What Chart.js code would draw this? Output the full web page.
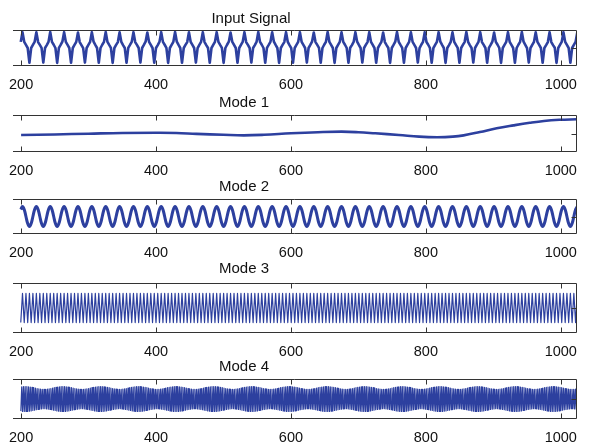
<!DOCTYPE html>
<html><head><meta charset="utf-8">
<script src="https://cdn.jsdelivr.net/npm/chart.js@4.4.0/dist/chart.umd.min.js"></script>
<style>
html,body{margin:0;padding:0;background:#fff;}
#wrap{position:relative;width:589px;height:445px;overflow:hidden;}
#wrap canvas{position:absolute;left:0;top:0;}
</style></head><body>
<div id="wrap">
<canvas id="c0" width="589" height="445"></canvas>
<canvas id="c1" width="589" height="445"></canvas>
<canvas id="c2" width="589" height="445"></canvas>
<canvas id="c3" width="589" height="445"></canvas>
<canvas id="c4" width="589" height="445"></canvas>
</div>
<script>
// ---------------- DATA ----------------
const titles = ['Input Signal', 'Mode 1', 'Mode 2', 'Mode 3', 'Mode 4'];
const xTickValues = [200, 400, 600, 800, 1000];
const xLimits = [188, 1024];

// sample grids (time axis of the sampled signals)
const coarseStart = 199.5, coarseStep = 2.57;     // input, mode 2, mode 3
const fineStart = 199.65, fineStep = 1.2705;      // mode 4

const inputSignal = [.34,
.88,.34,.17,0,-.82,0,.17,.34, .87,.33,.17,.01,-.81,0,.16,.34,
.89,.34,.18,0,-.83,.01,.17,.35, .88,.34,.17,0,-.82,0,.17,.34,
.86,.33,.16,-.01,-.81,0,.17,.34, .88,.35,.17,0,-.82,0,.18,.34,
.89,.34,.17,.01,-.83,0,.17,.33, .87,.34,.16,0,-.82,.01,.17,.34,
.88,.33,.17,0,-.81,0,.17,.35, .86,.34,.17,0,-.82,0,.16,.34,
.88,.34,.18,.01,-.83,0,.17,.34, .89,.35,.17,0,-.82,0,.17,.33,
.87,.34,.17,0,-.81,-.01,.17,.34, .88,.33,.16,0,-.82,0,.17,.34,
.88,.34,.17,.01,-.83,0,.18,.35, .86,.34,.17,0,-.82,0,.17,.34,
.88,.33,.17,0,-.81,0,.16,.34, .89,.34,.18,0,-.82,.01,.17,.34,
.87,.35,.17,0,-.83,0,.17,.33, .88,.34,.16,-.01,-.82,0,.17,.34,
.88,.34,.17,0,-.81,0,.17,.35, .86,.33,.17,.01,-.82,0,.18,.34,
.89,.34,.17,0,-.83,0,.17,.34, .87,.34,.18,0,-.82,.01,.16,.34,
.88,.35,.17,0,-.81,0,.17,.33, .88,.34,.17,0,-.82,0,.17,.34,
.86,.33,.16,0,-.83,0,.17,.35, .89,.34,.17,.01,-.82,0,.17,.34,
.87,.34,.17,0,-.81,-.01,.18,.34, .88,.33,.18,0,-.82,0,.17,.34,
.88,.35,.17,0,-.83,0,.16,.34, .87,.34,.17,.01,-.82,0,.17,.33,
.89,.34,.16,0,-.81,0,.17,.34, .88,.33,.17,0,-.82,.01,.17,.35,
.86,.34,.18,0,-.83,0,.17,.34, .88,.34,.17,0,-.82,0,.18,.34,
.89,.35,.17,-.01,-.81,0,.17,.34, .87,.34,.17,0,-.82,0,.16,.33,
.88,.33,.16,.01,-.83,0,.17,.34, .88,.34,.17,0,-.82,0,.17,.34,
.88];

const mode1X = [200, 250, 300, 350, 400, 430, 460, 500, 530, 560, 600, 640, 675, 700, 725, 760, 790, 817, 840, 856, 880, 905, 930, 954, 975, 998, 1024];
const mode1Y = [-.08, -.05, -.01, .03, .04, .03, -.02, -.07, -.1, -.07, .01, .07, .1, .07, .01, -.08, -.17, -.2, -.17, -.1, .08, .28, .44, .58, .68, .74, .77];

const mode2 = [.71,
1,.71,0,-.71,-1,-.71,0,.71, 1,.71,0,-.71,-1,-.71,0,.71,
1,.71,0,-.71,-1,-.71,0,.71, 1,.71,0,-.71,-1,-.71,0,.71,
1,.71,0,-.71,-1,-.71,0,.71, 1,.71,0,-.71,-1,-.71,0,.71,
1,.71,0,-.71,-1,-.71,0,.71, 1,.71,0,-.71,-1,-.71,0,.71,
1,.71,0,-.71,-1,-.71,0,.71, 1,.71,0,-.71,-1,-.71,0,.71,
1,.71,0,-.71,-1,-.71,0,.71, 1,.71,0,-.71,-1,-.71,0,.71,
1,.71,0,-.71,-1,-.71,0,.71, 1,.71,0,-.71,-1,-.71,0,.71,
1,.71,0,-.71,-1,-.71,0,.71, 1,.71,0,-.71,-1,-.71,0,.71,
1,.71,0,-.71,-1,-.71,0,.71, 1,.71,0,-.71,-1,-.71,0,.71,
1,.71,0,-.71,-1,-.71,0,.71, 1,.71,0,-.71,-1,-.71,0,.71,
1,.71,0,-.71,-1,-.71,0,.71, 1,.71,0,-.71,-1,-.71,0,.71,
1,.71,0,-.71,-1,-.71,0,.71, 1,.71,0,-.71,-1,-.71,0,.71,
1,.71,0,-.71,-1,-.71,0,.71, 1,.71,0,-.71,-1,-.71,0,.71,
1,.71,0,-.71,-1,-.71,0,.71, 1,.71,0,-.71,-1,-.71,0,.71,
1,.71,0,-.71,-1,-.71,0,.71, 1,.71,0,-.71,-1,-.71,0,.71,
1,.71,0,-.71,-1,-.71,0,.71, 1,.71,0,-.71,-1,-.71,0,.71,
1,.71,0,-.71,-1,-.71,0,.71, 1,.71,0,-.71,-1,-.71,0,.71,
1,.71,0,-.71,-1,-.71,0,.71, 1,.71,0,-.71,-1,-.71,0,.71,
1,.71,0,-.71,-1,-.71,0,.71, 1,.71,0,-.71,-1,-.71,0,.71,
1,.71,0,-.71,-1,-.71,0,.71, 1,.71,0,-.71,-1,-.71,0,.71,
1];

const mode3 = [
-1,1,-1,1,-1,1,-1,1,-1,1,-1,1,-1,1,-1,1,-1,1,-1,1,-1,1,-1,1,-1,1,-1,1,-1,1,-1,1,
-1,1,-1,1,-1,1,-1,1,-1,1,-1,1,-1,1,-1,1,-1,1,-1,1,-1,1,-1,1,-1,1,-1,1,-1,1,-1,1,
-1,1,-1,1,-1,1,-1,1,-1,1,-1,1,-1,1,-1,1,-1,1,-1,1,-1,1,-1,1,-1,1,-1,1,-1,1,-1,1,
-1,1,-1,1,-1,1,-1,1,-1,1,-1,1,-1,1,-1,1,-1,1,-1,1,-1,1,-1,1,-1,1,-1,1,-1,1,-1,1,
-1,1,-1,1,-1,1,-1,1,-1,1,-1,1,-1,1,-1,1,-1,1,-1,1,-1,1,-1,1,-1,1,-1,1,-1,1,-1,1,
-1,1,-1,1,-1,1,-1,1,-1,1,-1,1,-1,1,-1,1,-1,1,-1,1,-1,1,-1,1,-1,1,-1,1,-1,1,-1,1,
-1,1,-1,1,-1,1,-1,1,-1,1,-1,1,-1,1,-1,1,-1,1,-1,1,-1,1,-1,1,-1,1,-1,1,-1,1,-1,1,
-1,1,-1,1,-1,1,-1,1,-1,1,-1,1,-1,1,-1,1,-1,1,-1,1,-1,1,-1,1,-1,1,-1,1,-1,1,-1,1,
-1,1,-1,1,-1,1,-1,1,-1,1,-1,1,-1,1,-1,1,-1,1,-1,1,-1,1,-1,1,-1,1,-1,1,-1,1,-1,1,
-1,1,-1,1,-1,1,-1,1,-1,1,-1,1,-1,1,-1,1,-1,1,-1,1,-1,1,-1,1,-1,1,-1,1,-1,1,-1,1,
-1,1];

const mode4 = [-.97,.98,-.99,.99,-1,
1,-1,.99,-.99,.98,-.97,.96,-.95,.94,-.92,.91,-.89,.87,-.86,.84,-.83,.82,-.81,.8,-.79,.78,-.78,.78,-.78,.78,-.79,.8,-.81,.82,-.83,.84,-.86,.87,-.89,.91,-.92,.94,-.95,.96,-.97,.98,-.99,.99,-1,
1,-1,.99,-.99,.98,-.97,.96,-.95,.94,-.92,.91,-.89,.87,-.86,.84,-.83,.82,-.81,.8,-.79,.78,-.78,.78,-.78,.78,-.79,.8,-.81,.82,-.83,.84,-.86,.87,-.89,.91,-.92,.94,-.95,.96,-.97,.98,-.99,.99,-1,
1,-1,.99,-.99,.98,-.97,.96,-.95,.94,-.92,.91,-.89,.87,-.86,.84,-.83,.82,-.81,.8,-.79,.78,-.78,.78,-.78,.78,-.79,.8,-.81,.82,-.83,.84,-.86,.87,-.89,.91,-.92,.94,-.95,.96,-.97,.98,-.99,.99,-1,
1,-1,.99,-.99,.98,-.97,.96,-.95,.94,-.92,.91,-.89,.87,-.86,.84,-.83,.82,-.81,.8,-.79,.78,-.78,.78,-.78,.78,-.79,.8,-.81,.82,-.83,.84,-.86,.87,-.89,.91,-.92,.94,-.95,.96,-.97,.98,-.99,.99,-1,
1,-1,.99,-.99,.98,-.97,.96,-.95,.94,-.92,.91,-.89,.87,-.86,.84,-.83,.82,-.81,.8,-.79,.78,-.78,.78,-.78,.78,-.79,.8,-.81,.82,-.83,.84,-.86,.87,-.89,.91,-.92,.94,-.95,.96,-.97,.98,-.99,.99,-1,
1,-1,.99,-.99,.98,-.97,.96,-.95,.94,-.92,.91,-.89,.87,-.86,.84,-.83,.82,-.81,.8,-.79,.78,-.78,.78,-.78,.78,-.79,.8,-.81,.82,-.83,.84,-.86,.87,-.89,.91,-.92,.94,-.95,.96,-.97,.98,-.99,.99,-1,
1,-1,.99,-.99,.98,-.97,.96,-.95,.94,-.92,.91,-.89,.87,-.86,.84,-.83,.82,-.81,.8,-.79,.78,-.78,.78,-.78,.78,-.79,.8,-.81,.82,-.83,.84,-.86,.87,-.89,.91,-.92,.94,-.95,.96,-.97,.98,-.99,.99,-1,
1,-1,.99,-.99,.98,-.97,.96,-.95,.94,-.92,.91,-.89,.87,-.86,.84,-.83,.82,-.81,.8,-.79,.78,-.78,.78,-.78,.78,-.79,.8,-.81,.82,-.83,.84,-.86,.87,-.89,.91,-.92,.94,-.95,.96,-.97,.98,-.99,.99,-1,
1,-1,.99,-.99,.98,-.97,.96,-.95,.94,-.92,.91,-.89,.87,-.86,.84,-.83,.82,-.81,.8,-.79,.78,-.78,.78,-.78,.78,-.79,.8,-.81,.82,-.83,.84,-.86,.87,-.89,.91,-.92,.94,-.95,.96,-.97,.98,-.99,.99,-1,
1,-1,.99,-.99,.98,-.97,.96,-.95,.94,-.92,.91,-.89,.87,-.86,.84,-.83,.82,-.81,.8,-.79,.78,-.78,.78,-.78,.78,-.79,.8,-.81,.82,-.83,.84,-.86,.87,-.89,.91,-.92,.94,-.95,.96,-.97,.98,-.99,.99,-1,
1,-1,.99,-.99,.98,-.97,.96,-.95,.94,-.92,.91,-.89,.87,-.86,.84,-.83,.82,-.81,.8,-.79,.78,-.78,.78,-.78,.78,-.79,.8,-.81,.82,-.83,.84,-.86,.87,-.89,.91,-.92,.94,-.95,.96,-.97,.98,-.99,.99,-1,
1,-1,.99,-.99,.98,-.97,.96,-.95,.94,-.92,.91,-.89,.87,-.86,.84,-.83,.82,-.81,.8,-.79,.78,-.78,.78,-.78,.78,-.79,.8,-.81,.82,-.83,.84,-.86,.87,-.89,.91,-.92,.94,-.95,.96,-.97,.98,-.99,.99,-1,
1,-1,.99,-.99,.98,-.97,.96,-.95,.94,-.92,.91,-.89,.87,-.86,.84,-.83,.82,-.81,.8,-.79,.78,-.78,.78,-.78,.78,-.79,.8,-.81,.82,-.83,.84,-.86,.87,-.89,.91,-.92,.94,-.95,.96,-.97,.98,-.99,.99,-1,
1,-1,.99,-.99,.98,-.97,.96,-.95,.94,-.92,.91,-.89,.87,-.86,.84,-.83,.82,-.81,.8,-.79,.78,-.78,.78,-.78,.78,-.79,.8,-.81,.82,-.83,.84,-.86,.87,-.89,.91,-.92,.94,-.95,.96,-.97,.98,-.99,.99,-1,
1,-1,.99,-.99,.98,-.97,.96,-.95,.94,-.92,.91,-.89,.87,-.86,.84,-.83,.82,-.81,.8,-.79,.78,-.78,.78,-.78,.78,-.79,.8,-.81,.82];

// ---------------- LAYOUT / STYLE ----------------
const W = 589, H = 445;
const AXIS_H = 26;
const lineColor = '#2d409f';
const frameColor = '#333333';
const textColor = '#111111';
const FONT = '"Liberation Sans", Arial, Helvetica, sans-serif';

const panels = [
  {top: 30,  bottom: 66,  titleX: 251, titleGap: 7,  width: 2.6, tension: 0,   y: [-1, 1]},
  {top: 115, bottom: 152, titleX: 244, titleGap: 8,  width: 2.6, tension: 0.4, y: [-1, 1]},
  {top: 199, bottom: 234, titleX: 244, titleGap: 8,  width: 3,   tension: 0.4, y: [-1.75, 1.75]},
  {top: 283, bottom: 333, titleX: 244, titleGap: 10, width: 1.2, tension: 0,   y: [-1.72, 1.72]},
  {top: 379, bottom: 419, titleX: 244, titleGap: 8,  width: 1.2, tension: 0,   y: [-1.6, 1.6]}
];

function sampled(values, start, step) {
  return values.map((v, i) => ({x: start + i * step, y: v}));
}
const series = [
  sampled(inputSignal, coarseStart, coarseStep),
  mode1X.map((x, i) => ({x: x, y: mode1Y[i]})),
  sampled(mode2, coarseStart, coarseStep),
  sampled(mode3, coarseStart, coarseStep),
  sampled(mode4, fineStart, fineStep)
];

const framePlugin = {
  id: 'frame',
  afterDraw(chart, args, opts) {
    const ctx = chart.ctx;
    const a = chart.chartArea;
    const xs = chart.scales.x, ys = chart.scales.y;
    const t = a.top + 0.5, b = a.bottom - 0.5, l = a.left, r = a.right - 0.5;
    ctx.save();
    ctx.strokeStyle = frameColor;
    ctx.lineWidth = 1;
    ctx.beginPath();
    ctx.moveTo(l, t); ctx.lineTo(r, t); ctx.lineTo(r, b); ctx.lineTo(l, b);
    // inward x ticks
    xTickValues.forEach(v => {
      const px = Math.round(xs.getPixelForValue(v)) + 0.5;
      ctx.moveTo(px, t); ctx.lineTo(px, t + 5);
      ctx.moveTo(px, b); ctx.lineTo(px, b - 5);
    });
    // inward y tick at zero on the right edge
    const py = Math.round(ys.getPixelForValue(0)) + 0.5;
    ctx.moveTo(r, py); ctx.lineTo(r - 5, py);
    ctx.stroke();
    // subplot title
    ctx.fillStyle = textColor;
    ctx.font = '15px ' + FONT;
    ctx.textAlign = 'center';
    ctx.textBaseline = 'alphabetic';
    ctx.fillText(opts.text, opts.x, a.top - opts.gap);
    ctx.restore();
  }
};

panels.forEach((p, i) => {
  new Chart(document.getElementById('c' + i), {
    type: 'line',
    data: {datasets: [{
      data: series[i],
      borderColor: lineColor,
      borderWidth: p.width,
      borderJoinStyle: 'round',
      pointRadius: 0,
      tension: p.tension,
      fill: false
    }]},
    options: {
      responsive: false,
      animation: false,
      events: [],
      parsing: false,
      layout: {padding: {left: 13, right: W - 577, top: p.top, bottom: H - p.bottom - AXIS_H}},
      plugins: {
        legend: {display: false},
        tooltip: {enabled: false},
        title: {display: false},
        frame: {text: titles[i], x: p.titleX, gap: p.titleGap}
      },
      scales: {
        x: {
          type: 'linear',
          min: xLimits[0], max: xLimits[1],
          grid: {display: false},
          border: {display: false},
          ticks: {
            padding: 2,
            color: textColor,
            font: {family: FONT, size: 14.5},
            maxRotation: 0,
            autoSkip: false,
            callback: v => String(v)
          },
          afterBuildTicks: s => { s.ticks = xTickValues.map(v => ({value: v})); },
          afterFit: s => { s.height = AXIS_H; }
        },
        y: {display: false, min: p.y[0], max: p.y[1]}
      }
    },
    plugins: [framePlugin]
  });
});
</script>
</body></html>
